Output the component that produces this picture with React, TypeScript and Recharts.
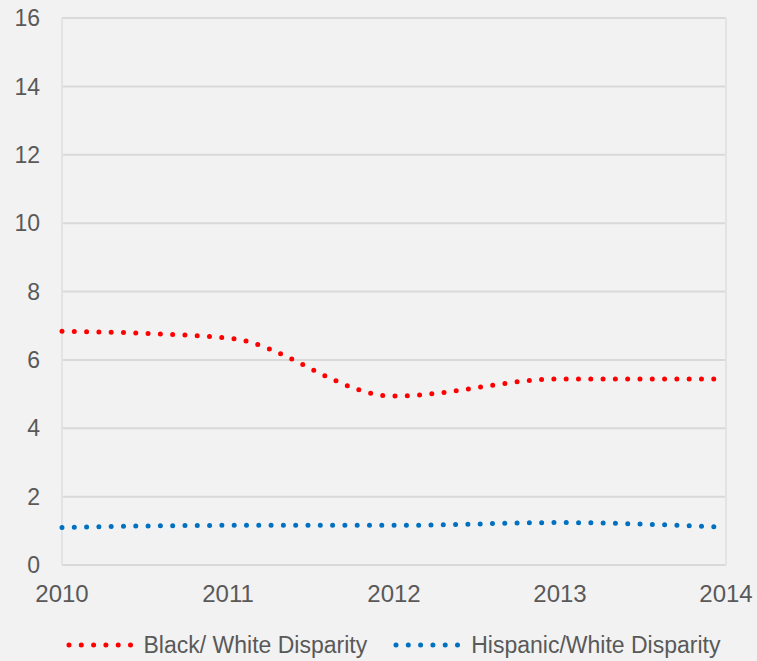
import React from 'react';
import { LineChart, Line, XAxis, YAxis, CartesianGrid, ReferenceLine, Legend } from 'recharts';

const years = ['2010', '2011', '2012', '2013', '2014'];
const blackWhite = [6.84, 6.64, 4.94, 5.44, 5.44];
const hispanicWhite = [1.1, 1.16, 1.16, 1.24, 1.1];
const yTicks = [0, 2, 4, 6, 8, 10, 12, 14, 16];

const seriesInfo = [
  { key: 'black', name: 'Black/ White Disparity', color: '#ff0000' },
  { key: 'hispanic', name: 'Hispanic/White Disparity', color: '#0070c0' },
];

const FONT = '"Liberation Sans", Arial, sans-serif';
const TEXT = '#595959';

// dotted legend like the Office one
function DotLegend() {
  return (
    <div style={{ display: 'flex', justifyContent: 'center', gap: 26, height: 26, marginLeft: 60, fontFamily: FONT, fontSize: 23, color: TEXT }}>
      {seriesInfo.map((s) => (
        <div key={s.key} style={{ display: 'flex', alignItems: 'center' }}>
          <svg width={72} height={12} style={{ marginRight: 6 }}>
            <line x1={3} y1={6} x2={70} y2={6} stroke={s.color} strokeWidth={5}
              strokeLinecap="round" strokeDasharray="0 12.3" />
          </svg>
          <span>{s.name}</span>
        </div>
      ))}
    </div>
  );
}

export default function App() {
  const data = years.map((y, i) => ({ year: y, black: blackWhite[i], hispanic: hispanicWhite[i] }));

  return (
    <div style={{ position: 'fixed', left: 0, top: 0, width: 757, height: 661, background: '#f2f2f2' }}>
      <LineChart width={757} height={661} data={data}
        margin={{ top: 18, right: 31, left: 0, bottom: 3 }}>
        <CartesianGrid vertical={false} stroke="#d9d9d9" strokeWidth={2} />
        <ReferenceLine x="2010" stroke="#e1e4e7" strokeWidth={2} />
        <ReferenceLine x="2014" stroke="#e1e4e7" strokeWidth={2} />
        <XAxis dataKey="year" axisLine={false} tickLine={false} tickMargin={14}
          tick={{ fontSize: 24, fill: TEXT, fontFamily: FONT }} height={67} />
        <YAxis domain={[0, 16]} ticks={yTicks} axisLine={false} tickLine={false} width={62}
          tickMargin={16} tick={{ fontSize: 23, fill: TEXT, fontFamily: FONT }} />
        <Legend verticalAlign="bottom" content={<DotLegend />} height={26} />
        <Line type="monotone" dataKey="black" name={seriesInfo[0].name} stroke="#ff0000"
          strokeWidth={5} strokeLinecap="round" strokeDasharray="0 12.3" dot={false}
          isAnimationActive={false} />
        <Line type="monotone" dataKey="hispanic" name={seriesInfo[1].name} stroke="#0070c0"
          strokeWidth={5} strokeLinecap="round" strokeDasharray="0 12.3" dot={false}
          isAnimationActive={false} />
      </LineChart>
    </div>
  );
}
